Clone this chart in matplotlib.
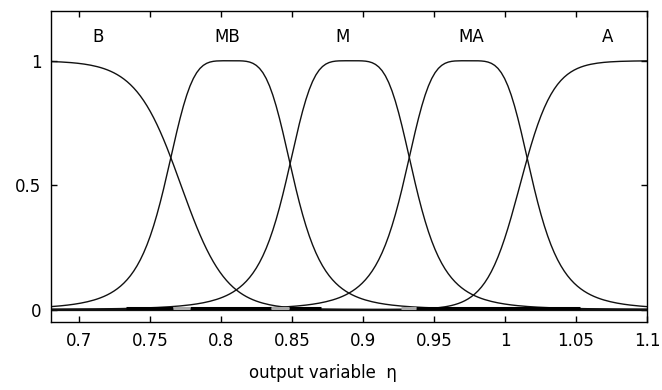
import numpy as np
import matplotlib

matplotlib.use("Agg")
import matplotlib.pyplot as plt

# membership functions of the output variable eta
mf_names = ["B", "MB", "M", "MA", "A"]
mf_types = ["sigmf", "gbellmf", "gbellmf", "gbellmf", "sigmf"]
mf_params = [
    [-63.0, 0.7716],          # sigmf: slope, centre
    [0.046, 2.2, 0.806],      # gbellmf: a, b, c
    [0.046, 2.2, 0.891],
    [0.046, 2.2, 0.974],
    [85.0, 1.0105],
]
label_x = [0.713, 0.804, 0.8855, 0.976, 1.072]
label_y = 1.097

x_range = (0.68, 1.1)
x_ticks = [0.7, 0.75, 0.8, 0.85, 0.9, 0.95, 1.0, 1.05, 1.1]
x_tick_labels = ["0.7", "0.75", "0.8", "0.85", "0.9", "0.95", "1", "1.05", "1.1"]
y_ticks = [0, 0.5, 1]
y_tick_labels = ["0", "0.5", "1"]

# heavy strokes along the zero line
dark_start = [0.733, 0.778, 0.848, 0.937]
dark_end = [0.766, 0.835, 0.870, 1.053]
grey_start = [0.766, 0.835, 0.927]
grey_end = [0.778, 0.848, 0.937]


def sigmf(x, p):
    a, c = p
    return 1.0 / (1.0 + np.exp(-a * (x - c)))


def gbellmf(x, p):
    a, b, c = p
    return 1.0 / (1.0 + np.abs((x - c) / a) ** (2 * b))


funcs = {"sigmf": sigmf, "gbellmf": gbellmf}

plt.rcParams["font.family"] = ["DejaVu Sans"]
fig = plt.figure(figsize=(6.62, 3.9), dpi=100)
ax = fig.add_axes([0.077, 0.1744, 0.9003, 0.7974])

xs = np.linspace(x_range[0], x_range[1], 181)
for kind, p in zip(mf_types, mf_params):
    ax.plot(xs, funcs[kind](xs, p), color="#111111", linewidth=1.0)

ax.axhline(0, color="#111111", linewidth=0.9)
ax.hlines([0.006] * len(dark_start), dark_start, dark_end, color="black", linewidth=2.2)
ax.hlines([0.006] * len(grey_start), grey_start, grey_end, color="#a8a8a8", linewidth=2.2)

for name, lx in zip(mf_names, label_x):
    ax.text(lx, label_y, name, ha="center", va="center", fontsize=12)

ax.set_xlim(*x_range)
ax.set_ylim(-0.05, 1.2)
ax.set_xticks(x_ticks)
ax.set_xticklabels(x_tick_labels)
ax.set_yticks(y_ticks)
ax.set_yticklabels(y_tick_labels)
ax.tick_params(direction="in", length=4, width=1, top=True, right=True,
               labelsize=12, pad=7)
for s in ax.spines.values():
    s.set_linewidth(1.0)

ax.set_xlabel("output variable  η", fontsize=12, labelpad=4)
ax.xaxis.set_label_coords(0.456, -0.135)

fig.savefig("out.png")
